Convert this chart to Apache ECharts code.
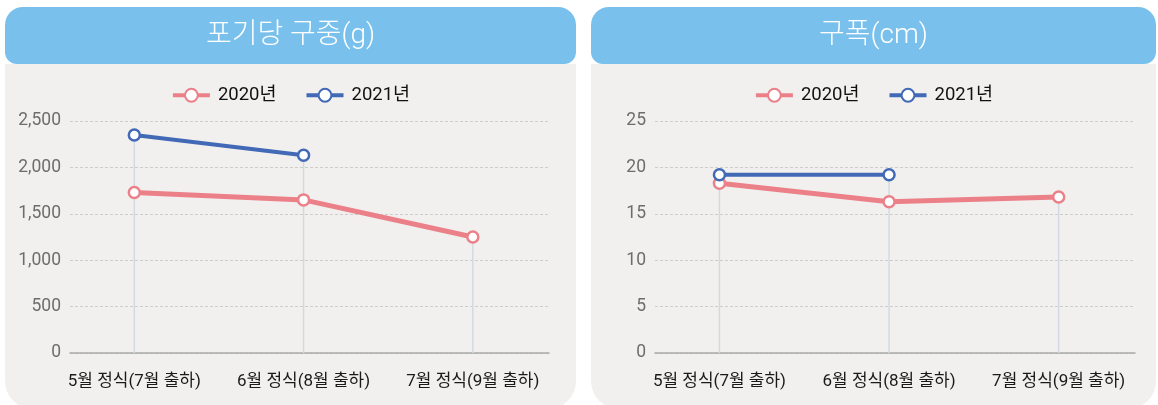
<!DOCTYPE html>
<html>
<head>
<meta charset="utf-8">
<script src="https://cdn.jsdelivr.net/npm/echarts@6/dist/echarts.min.js"></script>
<style>
  html, body { margin: 0; padding: 0; background: #fff; }
  #weight { position: absolute; left: 5px; top: 0; width: 571px; height: 405px; }
  #width { position: absolute; left: 591px; top: 0; width: 565px; height: 405px; }
</style>
</head>
<body>
<div id="weight"></div>
<div id="width"></div>
<script>
// 정식 시기 (출하 시기)
var categories = ['5월 정식(7월 출하)', '6월 정식(8월 출하)', '7월 정식(9월 출하)'];
var seriesNames = ['2020년', '2021년'];

// 포기당 구중(g)
var weight2020 = [1730, 1650, 1250];
var weight2021 = [2350, 2130];
var weightTicks = [0, 500, 1000, 1500, 2000, 2500];

// 구폭(cm)
var width2020 = [18.3, 16.3, 16.8];
var width2021 = [19.2, 19.2];
var widthTicks = [0, 5, 10, 15, 20, 25];

var red = '#EB8089';
var blue = '#4169B6';
var font = 'Roboto, "Noto Sans CJK KR", sans-serif';

function pairs(arr) {
  return arr.map(function (v, i) { return [i, v]; });
}

// 카테고리별 최고점에서 축까지 내리는 세로선
function dropLines(a, b) {
  return categories.map(function (c, i) {
    var vals = [a[i], b[i]].filter(function (v) { return v != null; });
    return [i, Math.max.apply(null, vals)];
  });
}

function lineSeries(name, color, arr, lw) {
  return {
    name: name,
    type: 'line',
    data: pairs(arr),
    symbol: 'circle',
    symbolSize: 11,
    z: 3,
    lineStyle: { color: color, width: lw },
    itemStyle: { color: '#fff', borderColor: color, borderWidth: 2.5 },
    emphasis: { disabled: true }
  };
}

function makeOption(title, w, a2020, a2021, ticks, gridLeft, gridRight) {
  return {
    animation: false,
    textStyle: { fontFamily: font },
    graphic: [
      {
        type: 'rect', z: -10, silent: true,
        shape: { x: 0, y: 64, width: w, height: 345, r: [0, 0, 28, 28] },
        style: { fill: '#F2F0EE' }
      },
      {
        type: 'rect', z: -9, silent: true,
        shape: { x: 0, y: 7, width: w, height: 57, r: [18, 18, 12, 12] },
        style: { fill: '#79C1EC' }
      }
    ],
    title: {
      text: title,
      left: 'center',
      top: 22,
      padding: 0,
      textStyle: { color: '#fff', fontSize: 28, fontWeight: 300, fontFamily: font }
    },
    legend: {
      data: seriesNames,
      left: 'center',
      top: 86,
      padding: 0,
      itemWidth: 37,
      itemHeight: 16,
      itemGap: 28,
      lineStyle: { width: 4 },
      textStyle: { color: '#111', fontSize: 18.5, fontFamily: font, padding: [0, 0, 0, 3] }
    },
    grid: { left: gridLeft, right: gridRight, top: 121, bottom: 52 },
    xAxis: {
      type: 'value',
      min: -0.38,
      max: 2.45,
      axisLine: { lineStyle: { color: '#A9A9A9', width: 1.5 } },
      axisTick: { show: false },
      splitLine: { show: false },
      axisLabel: {
        customValues: [0, 1, 2],
        formatter: function (v) { return categories[Math.round(v)]; },
        margin: 20,
        color: '#1a1a1a',
        fontSize: 17,
        fontFamily: font
      }
    },
    yAxis: {
      type: 'value',
      min: ticks[0],
      max: ticks[ticks.length - 1],
      interval: ticks[1] - ticks[0],
      axisLine: { show: false },
      axisTick: { show: false },
      axisLabel: {
        margin: 9,
        color: '#6d6d6d',
        fontSize: 17.5,
        fontFamily: font,
        formatter: function (v) { return v.toLocaleString('en-US'); }
      },
      splitLine: { lineStyle: { color: '#CDCDCD', type: [3, 2], width: 1 } }
    },
    series: [
      {
        type: 'bar',
        data: dropLines(a2020, a2021),
        barWidth: 1.5,
        silent: true,
        z: 1,
        itemStyle: { color: '#D2D9E4' }
      },
      lineSeries(seriesNames[0], red, a2020, 5),
      lineSeries(seriesNames[1], blue, a2021, 4)
    ]
  };
}

var weightChart = echarts.init(document.getElementById('weight'));
weightChart.setOption(makeOption('포기당 구중(g)', 571, weight2020, weight2021, weightTicks, 65, 27));

var widthChart = echarts.init(document.getElementById('width'));
widthChart.setOption(makeOption('구폭(cm)', 565, width2020, width2021, widthTicks, 64, 21));
</script>
</body>
</html>
